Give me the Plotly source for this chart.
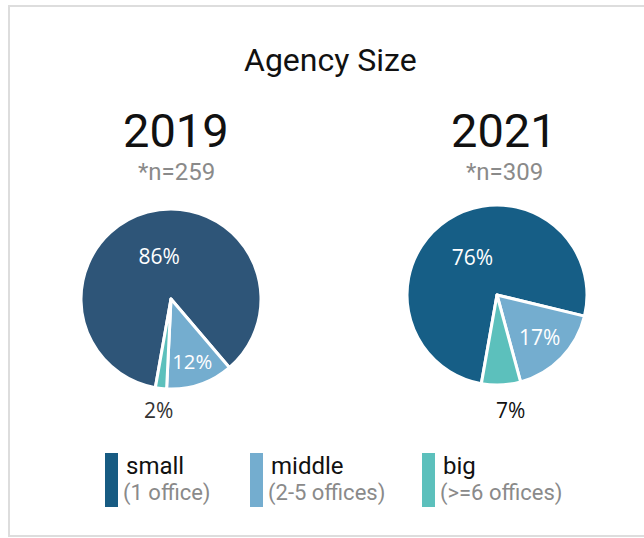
import math
import plotly.graph_objects as go

W, H = 644, 538

categories = ["small", "middle", "big"]
cat_notes = ["(1 office)", "(2-5 offices)", "(>=6 offices)"]
years = ["2019", "2021"]
sample_sizes = ["*n=259", "*n=309"]
values_2019 = [86, 12, 2]
values_2021 = [76, 17, 7]

colors_2019 = ["#2e5578", "#74adcf", "#5cc0bc"]
colors_2021 = ["#165e86", "#74adcf", "#5cc0bc"]
legend_colors = ["#175b82", "#74adcf", "#5cc0bc"]

ROTATION = 190


def px(x):
    return x / W


def py(y):
    return 1 - y / H


fig = go.Figure()
annotations = []

pies = [
    (values_2019, colors_2019, (171, 299), 90, "#333333", 0, 2),
    (values_2021, colors_2021, (497, 295), 90, "#111111", 8, 25),
]
for vals, cols, (cx, cy), r, out_col, shift, dist in pies:
    fig.add_trace(go.Pie(
        labels=categories,
        values=vals,
        sort=False,
        direction="clockwise",
        rotation=ROTATION,
        marker=dict(colors=cols, line=dict(color="white", width=3)),
        texttemplate=["%{value}%", "%{value}%", ""],
        textposition="inside",
        insidetextorientation="horizontal",
        textfont=dict(family="Open Sans", size=21, color="white"),
        hoverinfo="label+percent",
        showlegend=False,
        domain=dict(x=[px(cx - r), px(cx + r)], y=[py(cy + r), py(cy - r)]),
    ))
    # outside label for the smallest slice, placed along its mid-angle
    total = sum(vals)
    mid = ROTATION + 360 * (sum(vals[:-1]) + vals[-1] / 2) / total
    d = r + 22 + (dist - 2) / 8
    lx = cx + d * math.sin(math.radians(mid)) + shift
    ly = cy - d * math.cos(math.radians(mid))
    annotations.append(dict(text=f"{vals[-1]}%", x=px(lx), y=py(ly),
                            font=dict(family="Open Sans", size=21, color=out_col)))

annotations.append(dict(text="Agency Size", x=px(330), y=py(60),
                        font=dict(family="Roboto", size=32, color="#111111")))
for yr, n, cx in zip(years, sample_sizes, [176, 504]):
    annotations.append(dict(text=yr, x=px(cx), y=py(130), font=dict(family="Roboto", size=47, color="#111111")))
    annotations.append(dict(text=n, x=px(cx), y=py(172), font=dict(family="Roboto", size=24, color="#8a8a8a")))

shapes = [
    dict(type="rect", xref="paper", yref="paper", x0=px(9), x1=px(700), y0=py(536), y1=py(6),
         line=dict(color="#dddddd", width=2), fillcolor="rgba(0,0,0,0)"),
]
bar_x = [105, 250, 422]
text_x = [122, 267, 439]
for cat, note, col, bx, tx in zip(categories, cat_notes, legend_colors, bar_x, text_x):
    shapes.append(dict(type="rect", xref="paper", yref="paper", x0=px(bx), x1=px(bx + 13),
                       y0=py(507), y1=py(453), line=dict(width=0), fillcolor=col))
    annotations.append(dict(text=cat, x=px(tx + 2), y=py(466), xanchor="left",
                            font=dict(family="Roboto", size=24, color="#111111")))
    annotations.append(dict(text=note, x=px(tx - 1), y=py(493), xanchor="left",
                            font=dict(family="Roboto", size=22, color="#8a8a8a")))

for a in annotations:
    a.setdefault("xanchor", "center")
    a.update(xref="paper", yref="paper", yanchor="middle", showarrow=False)

fig.update_layout(
    width=W, height=H,
    margin=dict(l=0, r=0, t=0, b=0),
    paper_bgcolor="white",
    annotations=annotations,
    shapes=shapes,
)

fig.write_html("out.html", config={"displayModeBar": False},
               post_script="document.body.style.margin='0';document.body.style.overflow='hidden';")
